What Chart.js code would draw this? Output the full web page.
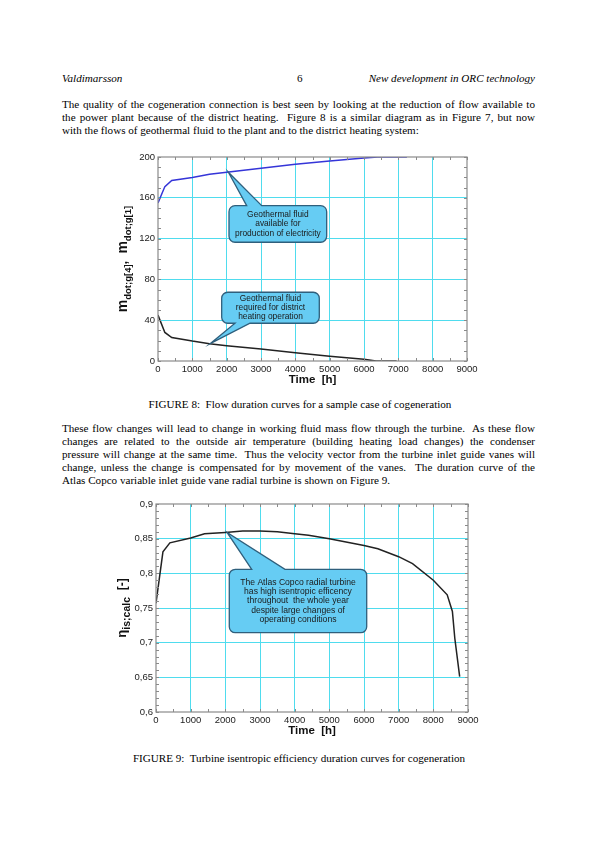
<!DOCTYPE html>
<html><head><meta charset="utf-8">
<script src="https://cdn.jsdelivr.net/npm/chart.js@4"></script>
<style>
body{margin:0;width:595px;height:842px;background:#fff;position:relative;overflow:hidden;font-family:"Liberation Serif","Times New Roman",serif;color:#000;}
.t{position:absolute;font-size:11.1px;line-height:13px;white-space:nowrap;}
.j{position:absolute;left:62px;width:473px;font-size:11.1px;line-height:13px;height:13px;text-align:justify;text-align-last:justify;}
.i{font-style:italic;}
canvas{position:absolute;}
</style>
</head><body>
<div class="t i" style="left:62px;top:71.5px;">Valdimarsson</div>
<div class="t" style="left:297px;top:71.5px;">6</div>
<div class="t i" style="right:60px;top:71.5px;">New development in ORC technology</div>

<div class="j" style="top:97.5px;">The quality of the cogeneration connection is best seen by looking at the reduction of flow available to</div>
<div class="j" style="top:110.5px;">the power plant because of the district heating.&nbsp; Figure 8 is a similar diagram as in Figure 7, but now</div>
<div class="t" style="left:62px;top:123.5px;">with the flows of geothermal fluid to the plant and to the district heating system:</div>

<canvas id="c1" width="390" height="240" style="left:100px;top:147px;"></canvas>

<div class="t" style="left:0;width:600px;text-align:center;top:397.5px;">FIGURE 8:&nbsp; Flow duration curves for a sample case of cogeneration</div>

<div class="j" style="top:421.5px;">These flow changes will lead to change in working fluid mass flow through the turbine.&nbsp; As these flow</div>
<div class="j" style="top:434.5px;">changes are related to the outside air temperature (building heating load changes) the condenser</div>
<div class="j" style="top:447.5px;">pressure will change at the same time.&nbsp; Thus the velocity vector from the turbine inlet guide vanes will</div>
<div class="j" style="top:460.5px;">change, unless the change is compensated for by movement of the vanes.&nbsp; The duration curve of the</div>
<div class="t" style="left:62px;top:473.5px;">Atlas Copco variable inlet guide vane radial turbine is shown on Figure 9.</div>

<canvas id="c2" width="390" height="244" style="left:100px;top:494px;"></canvas>

<div class="t" style="left:0;width:598px;text-align:center;top:751.5px;">FIGURE 9:&nbsp; Turbine isentropic efficiency duration curves for cogeneration</div>

<script>
// ---------- data ----------
const xTickLabels = ['0','1000','2000','3000','4000','5000','6000','7000','8000','9000'];
const yTickLabels1 = ['0','40','80','120','160','200'];
const yTickLabels2 = ['0,6','0,65','0,7','0,75','0,8','0,85','0,9'];

const timeAvail = [0,100,200,400,1000,1500,2000,3000,4000,5000,6000,6400,7250];
const flowAvail = [155,163,171,177,180,183,185,189,193,196,199,200,200];
const timeDH = [0,200,400,1000,1500,2000,3000,4000,5000,6000,6350,6950];
const flowDH = [45,28,23,19.5,17,15,11.7,8.2,4.6,1.6,0,0];

const timeEff = [0,200,400,1000,1400,2000,2500,3000,3500,4000,4400,5000,6000,6400,7000,7400,8000,8400,8550,8620,8760];
const effVals = [0.757,0.831,0.844,0.851,0.857,0.859,0.861,0.861,0.860,0.857,0.855,0.850,0.840,0.8355,0.824,0.814,0.790,0.769,0.745,0.706,0.651];

const callouts1 = [
  {text:['Geothermal fluid','available for','production of electricity'], box:[2068,4913,152.3,116.4], tip:[2050,185], base:[2583,3020], side:'top'},
  {text:['Geothermal fluid','required for district','heating operation'], box:[1855,4698,67.4,37], tip:[1520,17], base:[2243,2680], side:'bottom'}
];
const callouts2 = [
  {text:['The Atlas Copco radial turbine','has high isentropic efficency','throughout  the whole year','despite large changes of','operating conditions'], box:[2114,6078,0.8058,0.7144], tip:[2050,0.859], base:[2761,3721], side:'top'}
];

// ---------- styling helpers ----------
const SANS = '"Liberation Sans", Arial, sans-serif';
const GRID = '#4fdcee';
const FRAME = '#8a8a8a';

function pts(xs, ys){ return xs.map((x,i)=>({x:x, y:ys[i]})); }

function framePlugin(minorX, minorY, callouts, calloutFont, calloutLH, titleSegs, titleX){
  return {
    id:'frame',
    afterDatasetsDraw(chart){
      const {ctx, chartArea:a, scales:{x, y}} = chart;
      ctx.save();
      ctx.strokeStyle = FRAME; ctx.lineWidth = 1;
      ctx.beginPath();
      for(let v = x.min; v <= x.max + 1e-9; v += minorX){
        const px = Math.round(x.getPixelForValue(v)) + 0.5;
        ctx.moveTo(px, a.bottom); ctx.lineTo(px, a.bottom - 3);
        ctx.moveTo(px, a.top); ctx.lineTo(px, a.top + 3);
      }
      const n = Math.round((y.max - y.min)/minorY);
      for(let k = 0; k <= n; k++){
        const v = y.min + k*minorY;
        const py = Math.round(y.getPixelForValue(v)) + 0.5;
        ctx.moveTo(a.left, py); ctx.lineTo(a.left + 3, py);
        ctx.moveTo(a.right, py); ctx.lineTo(a.right - 3, py);
      }
      ctx.stroke();
      ctx.strokeStyle = FRAME; ctx.lineWidth = 1.2;
      ctx.strokeRect(a.left, a.top, a.right - a.left, a.bottom - a.top);

      callouts.forEach(c => {
        const x1 = x.getPixelForValue(c.box[0]), x2 = x.getPixelForValue(c.box[1]);
        const y1 = y.getPixelForValue(c.box[2]), y2 = y.getPixelForValue(c.box[3]);
        const tx = x.getPixelForValue(c.tip[0]), ty = y.getPixelForValue(c.tip[1]);
        const b1 = x.getPixelForValue(c.base[0]), b2 = x.getPixelForValue(c.base[1]);
        const r = 6;
        ctx.beginPath();
        ctx.moveTo(x1 + r, y1);
        if(c.side === 'top'){ ctx.lineTo(b1, y1); ctx.lineTo(tx, ty); ctx.lineTo(b2, y1); }
        ctx.lineTo(x2 - r, y1);
        ctx.arcTo(x2, y1, x2, y1 + r, r);
        ctx.lineTo(x2, y2 - r);
        ctx.arcTo(x2, y2, x2 - r, y2, r);
        if(c.side === 'bottom'){ ctx.lineTo(b2, y2); ctx.lineTo(tx, ty); ctx.lineTo(b1, y2); }
        ctx.lineTo(x1 + r, y2);
        ctx.arcTo(x1, y2, x1, y2 - r, r);
        ctx.lineTo(x1, y1 + r);
        ctx.arcTo(x1, y1, x1 + r, y1, r);
        ctx.closePath();
        ctx.fillStyle = '#66ccf3';
        ctx.fill();
        ctx.strokeStyle = '#2f5f7c'; ctx.lineWidth = 1.3;
        ctx.stroke();
        ctx.fillStyle = '#1a1a1a';
        ctx.font = calloutFont + 'px ' + SANS;
        ctx.textAlign = 'center'; ctx.textBaseline = 'middle';
        const cx = (x1 + x2)/2, cy = (y1 + y2)/2;
        c.text.forEach((t, i) => {
          ctx.fillText(t, cx, cy + (i - (c.text.length - 1)/2)*calloutLH);
        });
      });

      ctx.textAlign = 'left'; ctx.textBaseline = 'alphabetic';
      ctx.fillStyle = '#111';
      let total = 0;
      titleSegs.forEach(s => { ctx.font = 'bold ' + s.size + 'px ' + SANS; s.w = ctx.measureText(s.t).width; total += s.w; });
      const cy = (a.top + a.bottom)/2;
      ctx.translate(titleX, cy);
      ctx.rotate(-Math.PI/2);
      let pos = -total/2;
      titleSegs.forEach(s => {
        ctx.font = 'bold ' + s.size + 'px ' + SANS;
        ctx.fillText(s.t, pos, s.sub ? 3.5 : 0);
        pos += s.w;
      });
      ctx.restore();
    }
  };
}

function makeScales(ymin, ymax, ystep, yLabels, yWidth){
  return {
    x:{
      type:'linear', min:0, max:9000,
      ticks:{stepSize:1000, autoSkip:false, maxRotation:0, padding:3, color:'#222',
        font:{family:SANS, size:9.5}, callback:(v,i)=>xTickLabels[i]},
      grid:{drawTicks:false, color:(c)=> (c.tick && (c.tick.value===0 || c.tick.value===9000)) ? 'rgba(0,0,0,0)' : GRID, lineWidth:1},
      border:{display:false},
      title:{display:true, text:'Time  [h]', color:'#111', padding:0, font:{family:SANS, size:11.5, weight:'bold'}},
      afterFit:(s)=>{ s.height = 26; }
    },
    y:{
      type:'linear', min:ymin, max:ymax,
      ticks:{stepSize:ystep, autoSkip:false, padding:3, color:'#222',
        font:{family:SANS, size:9.5}, callback:(v,i)=>yLabels[i]},
      grid:{drawTicks:false, color:(c)=> (c.tick && (Math.abs(c.tick.value-ymin)<1e-9 || Math.abs(c.tick.value-ymax)<1e-9)) ? 'rgba(0,0,0,0)' : GRID, lineWidth:1},
      border:{display:false},
      afterFit:(s)=>{ s.width = yWidth; }
    }
  };
}

Chart.defaults.animation = false;

new Chart(document.getElementById('c1'), {
  type:'line',
  data:{datasets:[
    {data:pts(timeAvail, flowAvail), borderColor:'#3535d8', borderWidth:1.5, pointRadius:0, tension:0, fill:false},
    {data:pts(timeDH, flowDH), borderColor:'#222', borderWidth:1.5, pointRadius:0, tension:0, fill:false}
  ]},
  options:{
    responsive:false, animation:false, devicePixelRatio:1,
    layout:{padding:{top:10, right:23, left:0, bottom:0}},
    plugins:{legend:{display:false}, tooltip:{enabled:false}},
    scales: makeScales(0, 200, 40, yTickLabels1, 58)
  },
  plugins:[framePlugin(500, 10, callouts1, 8.4, 9.3,
    [{t:'m',size:14},{t:'dot;g[4]',size:9.5,sub:true},{t:',  ',size:13},{t:'m',size:14},{t:'dot;g[1]',size:9.5,sub:true}], 27)]
});

new Chart(document.getElementById('c2'), {
  type:'line',
  data:{datasets:[
    {data:pts(timeEff, effVals), borderColor:'#222', borderWidth:1.5, pointRadius:0, tension:0, fill:false}
  ]},
  options:{
    responsive:false, animation:false, devicePixelRatio:1,
    layout:{padding:{top:10, right:22, left:0, bottom:0}},
    plugins:{legend:{display:false}, tooltip:{enabled:false}},
    scales: makeScales(0.6, 0.9, 0.05, yTickLabels2, 56)
  },
  plugins:[framePlugin(500, 0.01, callouts2, 8.6, 9.2,
    [{t:'\u03B7',size:13},{t:'is;calc',size:10.5,sub:true},{t:'  [-]',size:12}], 26)]
});
</script>
</body></html>
